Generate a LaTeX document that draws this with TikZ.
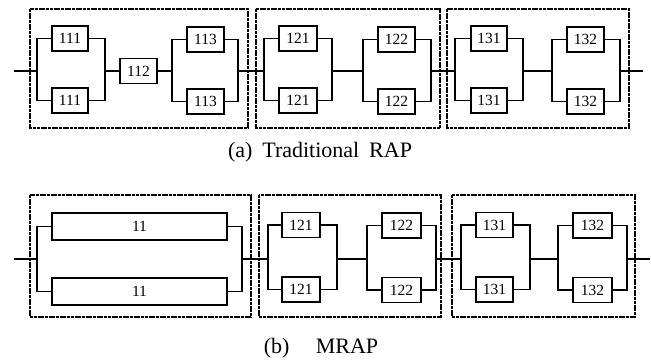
\documentclass[tikz,border=0pt]{standalone}
\usepackage{fontspec}
\setmainfont{Liberation Serif}
\newcommand\parblk[9]{%
  \node[comp, minimum width=#3pt] (#1t) at (#2,#4) {#6};
  \node[comp, minimum width=#3pt] (#1b) at (#2,#5) {#6};
  \coordinate (#1L) at (#7,#9);
  \coordinate (#1R) at (#8,#9);
  \draw[bus] (#1t.west) -| (#1L) |- (#1b.west);
  \draw[bus] (#1t.east) -| (#1R) |- (#1b.east);
}
\begin{document}
\begin{tikzpicture}[x=1pt,y=-1pt,
  comp/.style={draw, line width=1.5pt, minimum height=25pt, inner sep=0pt,
    font=\fontsize{15.5}{17}\selectfont},
  bus/.style={line width=1.5pt},
  mainline/.style={line width=1.2pt},
  dbox/.style={draw, line width=1.3pt, dash pattern=on 3pt off 0.7pt},
  captext/.style={font=\fontsize{22}{26}\selectfont, inner sep=0pt}]
\useasboundingbox (0,0) rectangle (651,361);
% ---------- (a) ----------
\draw[dbox] (30,9) rectangle (248,128);
\draw[dbox] (256,9) rectangle (440,128);
\draw[dbox] (447,9) rectangle (629,128);
\coordinate (aIn) at (14,71);
\coordinate (aOut) at (643,71);
\parblk{a111}{70}{36}{38.5}{100.5}{111}{37}{105}{71}
\node[comp, minimum width=37pt] (a112) at (138.5,71) {112};
\parblk{a113}{205.5}{37}{39.5}{101.5}{113}{172}{238}{71}
\parblk{a121}{298}{38}{38.5}{100.5}{121}{264}{332}{71}
\parblk{a122}{396.5}{37}{39.5}{101.5}{122}{363}{431}{71}
\parblk{a131}{489}{36}{38.5}{100.5}{131}{455}{523}{71}
\parblk{a132}{585.5}{37}{39.5}{101.5}{132}{552}{620}{71}
\draw[mainline] (aIn) -- (a111L);
\draw[mainline] (a111R) -- (a112.west);
\draw[mainline] (a112.east) -- (a113L);
\draw[mainline] (a113R) -- (a121L);
\draw[mainline] (a121R) -- (a122L);
\draw[mainline] (a122R) -- (a131L);
\draw[mainline] (a131R) -- (a132L);
\draw[mainline] (a132R) -- (aOut);
\node[captext] (capa) at (320,152) {(a)\hspace{0.45em}Traditional\hspace{0.45em}RAP};
% ---------- (b) ----------
\draw[dbox] (30,195) rectangle (251,317);
\draw[dbox] (259,195) rectangle (441,317);
\draw[dbox] (452,195) rectangle (635,317);
\coordinate (bIn) at (14,259);
\coordinate (bOut) at (650,259);
\begin{scope}[comp/.append style={minimum height=27pt}]
\parblk{b11}{139.5}{175}{226.5}{291.5}{11}{37}{242}{259}
\end{scope}
\parblk{b121}{301}{38}{225}{289.5}{121}{268}{337}{259}
\parblk{b122}{401.5}{39}{225.5}{290}{122}{367}{436}{259}
\parblk{b131}{494.5}{37}{225}{289.5}{131}{461}{530}{259}
\parblk{b132}{592.5}{39}{225.5}{290}{132}{558}{627}{259}
\draw[mainline] (bIn) -- (b11L);
\draw[mainline] (b11R) -- (b121L);
\draw[mainline] (b121R) -- (b122L);
\draw[mainline] (b122R) -- (b131L);
\draw[mainline] (b131R) -- (b132L);
\draw[mainline] (b132R) -- (bOut);
\node[captext] (capb) at (321,348) {(b)\hspace{1.2em}MRAP};
\end{tikzpicture}
\end{document}
